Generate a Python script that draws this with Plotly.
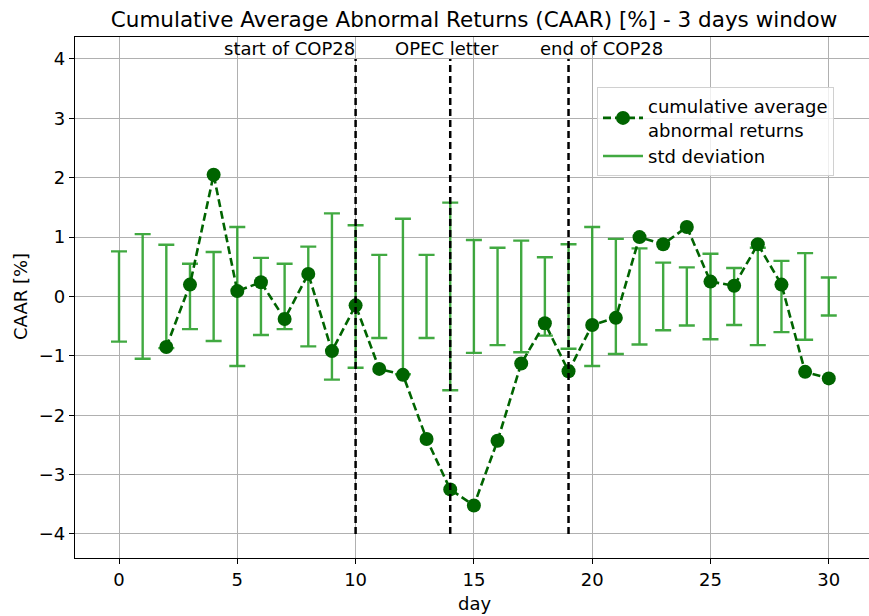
import plotly.graph_objects as go

# ---- data ----
days_std = list(range(0, 31))
std_dev = [0.76, 1.05, 0.87, 0.55, 0.75, 1.17, 0.65, 0.55, 0.84, 1.40,
           1.20, 0.70, 1.31, 0.70, 1.58, 0.95, 0.82, 0.94, 0.66, 0.88,
           1.17, 0.97, 0.81, 0.57, 0.49, 0.72, 0.48, 0.82, 0.60, 0.73, 0.32]
zeros = [0.0] * len(days_std)

days_caar = list(range(2, 31))
caar = [-0.85, 0.20, 2.05, 0.09, 0.24, -0.38, 0.38, -0.92, -0.15, -1.22,
        -1.32, -2.40, -3.25, -3.52, -2.43, -1.13, -0.45, -1.26, -0.48, -0.36,
        1.00, 0.88, 1.17, 0.25, 0.18, 0.88, 0.20, -1.27, -1.38]

event_days = [10, 14, 19]
event_labels = ["start of COP28", "OPEC letter", "end of COP28"]
label_x = [7.22, 13.86, 20.4]

y_ticks = [-4, -3, -2, -1, 0, 1, 2, 3, 4]
x_ticks = [0, 5, 10, 15, 20, 25, 30]

FONT = "DejaVu Sans"
ERR_COLOR = "rgba(44,160,44,0.9)"
LINE_COLOR = "#006400"

W, H = 869, 616
L, R, T, B = 75, 0, 37, 58
pw = W - L - R
ph = H - T - B

fig = go.Figure()

# std deviation error bars around zero
fig.add_trace(go.Scatter(
    x=days_std, y=zeros, mode="markers",
    marker=dict(size=1, color="rgba(0,0,0,0)"),
    error_y=dict(type="data", array=std_dev, visible=True,
                 color=ERR_COLOR, thickness=2.4, width=8),
    showlegend=False, hoverinfo="skip",
))

# CAAR line
fig.add_trace(go.Scatter(
    x=days_caar, y=caar, mode="lines+markers",
    name="cumulative average<br>abnormal returns",
    line=dict(color=LINE_COLOR, width=2.6, dash="8px,4px"),
    marker=dict(color=LINE_COLOR, size=14),
))

# legend entry for std deviation
fig.add_trace(go.Scatter(
    x=[None], y=[None], mode="lines", name="std deviation",
    line=dict(color=ERR_COLOR, width=2.4),
))

for d in event_days:
    fig.add_shape(type="line", x0=d, x1=d, y0=-4, y1=4, xref="x", yref="y",
                  line=dict(color="black", width=2.5, dash="7px,4px"),
                  layer="above")

for lx, lab in zip(label_x, event_labels):
    fig.add_annotation(x=lx, y=4.17, xref="x", yref="y", text=lab,
                       showarrow=False, xanchor="center", yanchor="middle",
                       font=dict(family=FONT, size=18, color="black"))

# axis titles as annotations for exact placement (pixel -> paper)
fig.add_annotation(x=(474 - L) / pw, y=-(603 - (H - B)) / ph,
                   xref="paper", yref="paper", text="day",
                   showarrow=False, xanchor="center", yanchor="middle",
                   font=dict(family=FONT, size=18, color="black"))
fig.add_annotation(x=(20 - L) / pw, y=(H - B - 297) / ph,
                   xref="paper", yref="paper", text="CAAR [%]",
                   showarrow=False, textangle=-90, xanchor="center",
                   yanchor="middle",
                   font=dict(family=FONT, size=18, color="black"))

fig.update_layout(
    width=W, height=H,
    margin=dict(l=L, r=R, t=T, b=B, autoexpand=False),
    plot_bgcolor="white", paper_bgcolor="white",
    font=dict(family=FONT, size=18, color="black"),
    title=dict(text="Cumulative Average Abnormal Returns (CAAR) [%] - 3 days window",
               x=(474 - L) / pw, xanchor="center", y=1 - 19 / H,
               yanchor="middle", xref="paper", yref="container",
               font=dict(family=FONT, size=21.5, color="black")),
    legend=dict(x=(597 - L) / pw, y=(H - B - 87) / ph, xanchor="left",
                yanchor="top",
                bgcolor="rgba(255,255,255,0.8)", bordercolor="#d0d0d0",
                borderwidth=1, font=dict(family=FONT, size=18),
                tracegroupgap=0, itemwidth=40),
)

fig.update_xaxes(
    range=[-1.86, 31.7], tickvals=x_ticks, ticks="outside", ticklen=5,
    tickcolor="black", showline=True, linecolor="black", linewidth=1.2,
    mirror=True, showgrid=True, gridcolor="#b0b0b0", gridwidth=1,
    zeroline=False, automargin=False, tickfont=dict(size=18),
)
fig.update_yaxes(
    range=[-4.405, 4.37], tickvals=y_ticks,
    ticktext=[("\u2212" + str(-v)) if v < 0 else str(v) for v in y_ticks],
    ticks="outside", ticklen=5, tickcolor="black", showline=True,
    linecolor="black", linewidth=1.2, showgrid=True, gridcolor="#b0b0b0",
    gridwidth=1, zeroline=False, automargin=False, tickfont=dict(size=18),
)

fig.write_html(
    "out.html",
    config={"displayModeBar": False},
    post_script="document.body.style.margin='0';document.body.style.overflow='hidden';",
)
